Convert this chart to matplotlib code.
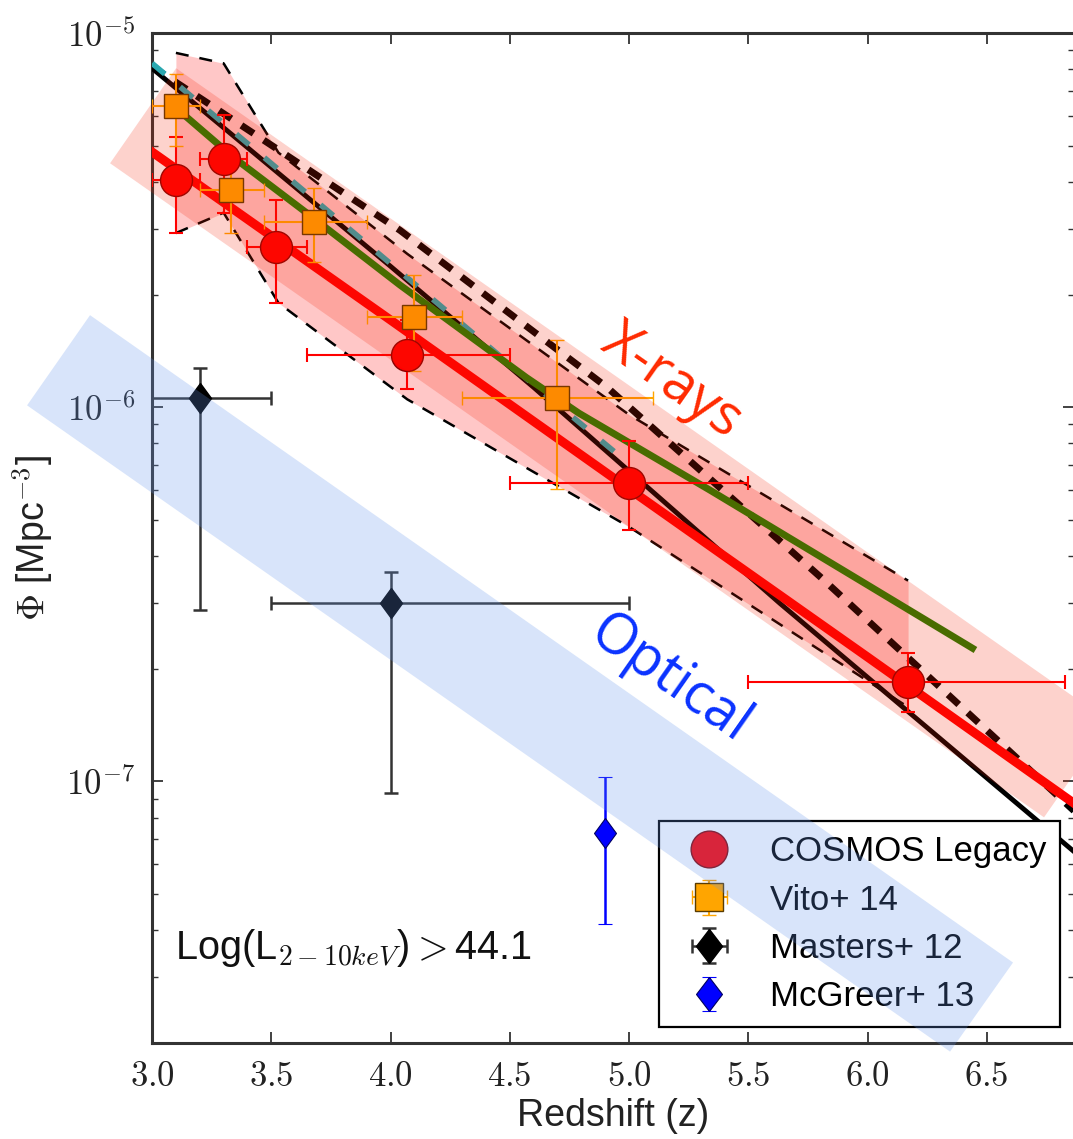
#!/usr/bin/env python3
"""
AGN space density at high redshift: COSMOS Legacy X-ray sample compared
with literature X-ray and optical measurements and model curves.
"""

import matplotlib

matplotlib.use("Agg")
import matplotlib.pyplot as plt
import numpy as np
from matplotlib.markers import MarkerStyle
from matplotlib.patches import Polygon
from matplotlib.ticker import FixedLocator, FuncFormatter, LogLocator, NullFormatter
from matplotlib.transforms import Affine2D

# COSMOS Legacy binned space density
cosmos_z = [3.1, 3.3, 3.52, 4.07, 5.0, 6.17]
cosmos_z_lo = [3.0, 3.2, 3.4, 3.65, 4.5, 5.5]
cosmos_z_hi = [3.2, 3.4, 3.65, 4.5, 5.5, 6.83]
cosmos_phi = [4.05e-6, 4.62e-6, 2.68e-6, 1.38e-6, 6.26e-7, 1.84e-7]
cosmos_phi_lo = [2.92e-6, 3.31e-6, 1.90e-6, 1.12e-6, 4.69e-7, 1.53e-7]
cosmos_phi_hi = [5.28e-6, 6.04e-6, 3.57e-6, 1.71e-6, 8.1e-7, 2.2e-7]

# Vito+14
vito_z = [3.1, 3.33, 3.68, 4.10, 4.70]
vito_z_lo = [3.0, 3.2, 3.47, 3.9, 4.3]
vito_z_hi = [3.2, 3.47, 3.9, 4.3, 5.1]
vito_phi = [6.38e-6, 3.80e-6, 3.13e-6, 1.74e-6, 1.06e-6]
vito_phi_lo = [5.0e-6, 2.92e-6, 2.44e-6, 1.25e-6, 6.04e-7]
vito_phi_hi = [7.77e-6, 4.6e-6, 3.86e-6, 2.25e-6, 1.51e-6]

# Masters+12 (optical)
masters_z = [3.2, 4.0]
masters_z_lo = [3.0, 3.5]
masters_z_hi = [3.5, 5.0]
masters_phi = [1.06e-6, 2.99e-7]
masters_phi_lo = [2.88e-7, 9.29e-8]
masters_phi_hi = [1.27e-6, 3.62e-7]

# McGreer+13 (optical)
mcgreer_z = [4.9]
mcgreer_phi = [7.26e-8]
mcgreer_phi_lo = [4.15e-8]
mcgreer_phi_hi = [1.03e-7]

# Uncertainty envelope of the COSMOS estimate
envelope_z = [3.1, 3.3, 3.53, 4.07, 5.0, 6.17]
envelope_lo = [2.92e-6, 3.31e-6, 1.90e-6, 1.05e-6, 4.79e-7, 1.58e-7]
envelope_hi = [8.85e-6, 8.3e-6, 4.79e-6, 2.57e-6, 9.55e-7, 3.44e-7]

# Model curves
fit_z = [3.0, 4.0, 5.0, 6.0, 6.87]
fit_phi = [4.81e-6, 1.71e-6, 6.05e-7, 2.15e-7, 8.7e-8]

model_z = [3.0, 4.0, 4.6, 5.633, 6.87]
model_phi = [8.05e-6, 2.38e-6, 1.13e-6, 2.99e-7, 6.46e-8]

model2_z = [3.0, 4.0, 4.6, 4.95]
model2_phi = [8.3e-6, 2.42e-6, 1.15e-6, 7.5e-7]

model3_z = [3.0, 3.214, 4.04, 4.908, 5.813, 6.87]
model3_phi = [8.13e-6, 6.62e-6, 2.97e-6, 1.13e-6, 3.47e-7, 8.3e-8]

vito_model_z = [3.1, 3.34, 3.65, 4.04, 4.57, 4.79, 5.34, 5.97, 6.44]
vito_model_phi = [6.31e-6, 4.66e-6, 3.30e-6, 2.12e-6, 1.20e-6, 9.64e-7,
                  6.0e-7, 3.44e-7, 2.27e-7]

# Highlight bands (z, log10 Phi corners)
xray_band = [(2.824, -5.348), (3.101, -5.094), (7.017, -6.842), (6.740, -7.096)]
optical_band = [(2.476, -5.995), (2.740, -5.754), (6.610, -7.484), (6.346, -7.722)]


def asym(values, lo, hi):
    values = np.asarray(values)
    return [values - np.asarray(lo), np.asarray(hi) - values]


def create_figure(output_path: str) -> None:
    plt.rcParams["mathtext.fontset"] = "cm"
    plt.rcParams["font.family"] = ["Liberation Sans", "DejaVu Sans"]

    fig = plt.figure(figsize=(10.73, 11.39), dpi=100)
    ax = fig.add_axes([0.1417, 0.0843, 0.8593, 0.8867])

    # Uncertainty envelope
    ax.fill_between(envelope_z, envelope_lo, envelope_hi, color="red",
                    alpha=0.22, linewidth=0, zorder=1)
    for edge in (envelope_lo, envelope_hi):
        ax.plot(envelope_z, edge, color="black", lw=1.8, dashes=(5.2, 4.4),
                zorder=2)

    # Model curves
    ax.plot(model3_z, model3_phi, color="black", lw=5, dashes=(2.1, 1.75),
            zorder=3)
    ax.plot(model_z, model_phi, color="black", lw=3.5, zorder=3)
    ax.plot(model2_z, model2_phi, color="#2aa8b0", lw=4, dashes=(3.0, 3.6),
            zorder=3)
    ax.plot(vito_model_z, vito_model_phi, color="#1f8000", lw=5, zorder=3)
    ax.plot(fit_z, fit_phi, color="red", lw=6.5, zorder=3)

    # Data points
    ax.errorbar(cosmos_z, cosmos_phi,
                xerr=asym(cosmos_z, cosmos_z_lo, cosmos_z_hi),
                yerr=asym(cosmos_phi, cosmos_phi_lo, cosmos_phi_hi),
                fmt="none", ecolor="red", elinewidth=1.5, capsize=5,
                capthick=1.5, zorder=4)
    cosmos_h, = ax.plot(cosmos_z, cosmos_phi, "o", ms=23, color="red",
                        mec="#8b0000", mew=1, zorder=6, label="COSMOS Legacy")

    vito_h = ax.errorbar(vito_z, vito_phi,
                         xerr=asym(vito_z, vito_z_lo, vito_z_hi),
                         yerr=asym(vito_phi, vito_phi_lo, vito_phi_hi),
                         fmt="s", ms=17, color="orange", mec="#5a3c00", mew=1,
                         ecolor="orange", elinewidth=1.5, capsize=5,
                         capthick=1.5, zorder=5, label="Vito+ 14")

    diamond = MarkerStyle("D", transform=Affine2D().scale(0.75, 1.0))
    masters_h = ax.errorbar(masters_z, masters_phi,
                            xerr=asym(masters_z, masters_z_lo, masters_z_hi),
                            yerr=asym(masters_phi, masters_phi_lo, masters_phi_hi),
                            linestyle="none", marker=diamond, ms=15.3,
                            color="black", ecolor="#333333", elinewidth=1.8,
                            capsize=5, capthick=1.8, zorder=5,
                            label="Masters+ 12")
    mcgreer_h = ax.errorbar(mcgreer_z, mcgreer_phi,
                            yerr=asym(mcgreer_phi, mcgreer_phi_lo, mcgreer_phi_hi),
                            linestyle="none", marker=diamond, ms=15.3,
                            color="blue", mec="#000060", mew=0.8,
                            ecolor="blue", elinewidth=1.8, capsize=5,
                            capthick=1.8, zorder=5, label="McGreer+ 13")

    leg = ax.legend(
        [cosmos_h, vito_h, masters_h, mcgreer_h],
        ["COSMOS Legacy", "Vito+ 14", "Masters+ 12", "McGreer+ 13"],
        loc="lower right", bbox_to_anchor=(0.985, 0.0158), borderaxespad=0,
        fontsize=25, markerscale=1.15, handlelength=2.1, handletextpad=0.7,
        labelspacing=0.44, borderpad=0.4, fancybox=False, framealpha=1,
        edgecolor="black", numpoints=1,
    )
    leg.get_frame().set_linewidth(1.6)
    leg.set_zorder(7)

    # Axes scales and ticks
    ax.set_yscale("log")
    ax.set_xlim(3.0, 6.866)
    ax.set_ylim(2e-8, 1e-5)
    ax.xaxis.set_major_locator(FixedLocator(np.arange(3.0, 6.51, 0.5)))
    ax.xaxis.set_major_formatter(FuncFormatter(lambda v, _: rf"${v:.1f}$"))
    ax.yaxis.set_major_locator(LogLocator(base=10))
    ax.yaxis.set_major_formatter(
        FuncFormatter(lambda v, _: rf"$10^{{{int(round(np.log10(v)))}}}$"))
    ax.yaxis.set_minor_locator(LogLocator(base=10, subs=np.arange(2, 10)))
    ax.yaxis.set_minor_formatter(NullFormatter())
    ax.tick_params(which="both", direction="in", top=True, right=True,
                   colors="#333333", labelcolor="#222222")
    ax.tick_params(which="major", length=8, width=1.3, labelsize=25, pad=12)
    ax.tick_params(which="minor", length=4, width=1.0)
    for spine in ax.spines.values():
        spine.set_linewidth(2.2)
        spine.set_color("#333333")

    ax.set_xlabel("Redshift (z)", fontsize=27, color="#222222", labelpad=4)
    ax.set_ylabel(r"$\Phi$ [Mpc$^{-3}$]", fontsize=27, color="#222222")
    ax.yaxis.set_label_coords(-0.105, 0.5)

    ax.text(0.025, 0.094, r"Log(L$_{2-10keV}$)$>$44.1", transform=ax.transAxes,
            fontsize=28.5, va="center", ha="left", color="#111111")

    # Translucent highlight bands over the whole panel
    for corners, color, alpha in ((xray_band, "#f52000", 0.2),
                                  (optical_band, "cornflowerblue", 0.25)):
        verts = [(z, 10 ** lp) for z, lp in corners]
        band = Polygon(verts, closed=True, facecolor=color, edgecolor="none",
                       alpha=alpha, transform=ax.transData, clip_on=False,
                       zorder=10)
        ax.add_patch(band)

    fig.text(0.6263, 0.6646, "X-rays", rotation=-35, fontsize=40,
             family="Open Sans", color="#ff2a00", ha="center", va="center",
             zorder=11)
    fig.text(0.6244, 0.403, "Optical", rotation=-35, fontsize=40,
             family="Open Sans", color="#0a32ff", ha="center", va="center",
             zorder=11)

    fig.savefig(output_path, dpi=100)
    print(f"Saved figure to {output_path}")


def main() -> None:
    create_figure("out.png")


if __name__ == "__main__":
    main()
